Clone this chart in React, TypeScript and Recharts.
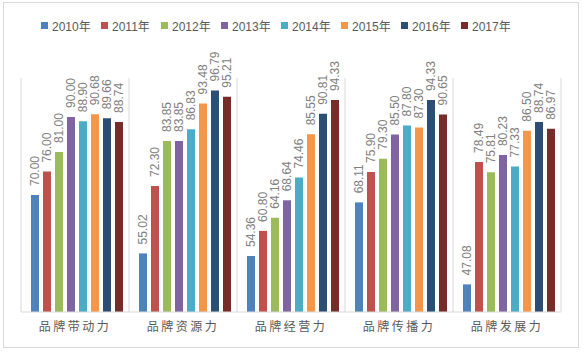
import React from "react";
import { BarChart, Bar, XAxis, YAxis, CartesianGrid, Legend, LabelList } from "recharts";

const categories = ["品牌带动力", "品牌资源力", "品牌经营力", "品牌传播力", "品牌发展力"];
const years = ["2010年", "2011年", "2012年", "2013年", "2014年", "2015年", "2016年", "2017年"];
const v2010 = [70.0, 55.02, 54.36, 68.11, 47.08];
const v2011 = [76.0, 72.3, 60.8, 75.9, 78.49];
const v2012 = [81.0, 83.85, 64.16, 79.3, 75.81];
const v2013 = [90.0, 83.85, 68.64, 85.5, 80.23];
const v2014 = [88.9, 86.83, 74.46, 87.8, 77.33];
const v2015 = [90.68, 93.48, 85.55, 87.3, 86.5];
const v2016 = [89.66, 96.79, 90.81, 94.33, 88.74];
const v2017 = [88.74, 95.21, 94.33, 90.65, 86.97];
const seriesValues = [v2010, v2011, v2012, v2013, v2014, v2015, v2016, v2017];
const colors = ["#4F81BD", "#C0504D", "#9BBB59", "#8064A2", "#4BACC6", "#F79646", "#2C4D75", "#772C2A"];

const data = categories.map((name, i) => {
  const row: Record<string, any> = { name };
  years.forEach((y, j) => {
    row[y] = seriesValues[j][i];
  });
  return row;
});

const RotLabel = (props: any) => {
  const { x, y, width, value } = props;
  const cx = x + width / 2;
  const ty = y - 9;
  return (
    <text
      x={cx}
      y={ty}
      transform={`rotate(-90, ${cx}, ${ty})`}
      textAnchor="start"
      dominantBaseline="central"
      fontSize={12}
      fontFamily="Liberation Sans, Arial, sans-serif"
      fill="#808080"
    >
      {Number(value).toFixed(2)}
    </text>
  );
};

const LegendContent = () => (
  <div style={{ display: "flex", flexDirection: "row", paddingLeft: 41, height: 16 }}>
    {years.map((y, i) => (
      <div key={y} style={{ width: 60, display: "flex", alignItems: "center", height: 16 }}>
        <span style={{ width: 7, height: 7, background: colors[i], display: "inline-block", marginRight: 4 }} />
        <span style={{ fontSize: 12, color: "#595959", fontFamily: "Liberation Sans, 'Noto Sans CJK SC', sans-serif" }}>{y}</span>
      </div>
    ))}
  </div>
);

const CatTick = (props: any) => {
  const { x, y, payload } = props;
  return (
    <text
      x={x}
      y={y + 11}
      textAnchor="middle"
      fontSize={12}
      letterSpacing={2.5}
      fontFamily="'Noto Sans CJK SC', sans-serif"
      fill="#595959"
    >
      {payload.value}
    </text>
  );
};

export default function App() {
  return (
    <div style={{ position: "absolute", left: 0, top: 0, width: 583, height: 356, background: "#fff" }}>
      <div
        style={{
          position: "absolute",
          left: 3,
          top: 2,
          width: 574,
          height: 344,
          border: "1px solid #d9d9d9",
          boxSizing: "content-box",
        }}
      />
      <div style={{ position: "absolute", left: 0, top: 0 }}>
        <BarChart
          width={583}
          height={356}
          data={data}
          margin={{ top: 62, right: 22, bottom: 14, left: 21 }}
          barCategoryGap={10}
          barGap={4}
        >
          <CartesianGrid
            horizontal={false}
            stroke="#d9d9d9"
            verticalCoordinatesGenerator={({ offset }: any) =>
              Array.from({ length: categories.length + 1 }, (_, i) => offset.left + (i * offset.width) / categories.length)
            }
          />
          <XAxis
            dataKey="name"
            height={30}
            axisLine={{ stroke: "#d9d9d9" }}
            tickLine={false}
            tick={<CatTick />}
            interval={0}
          />
          <YAxis hide domain={[40, 100]} allowDataOverflow />
          <Legend
            verticalAlign="top"
            align="left"
            wrapperStyle={{ top: 17, left: 0 }}
            content={<LegendContent />}
          />
          {years.map((y, i) => (
            <Bar key={y} dataKey={y} fill={colors[i]} isAnimationActive={false}>
              <LabelList dataKey={y} content={<RotLabel />} />
            </Bar>
          ))}
        </BarChart>
      </div>
    </div>
  );
}
